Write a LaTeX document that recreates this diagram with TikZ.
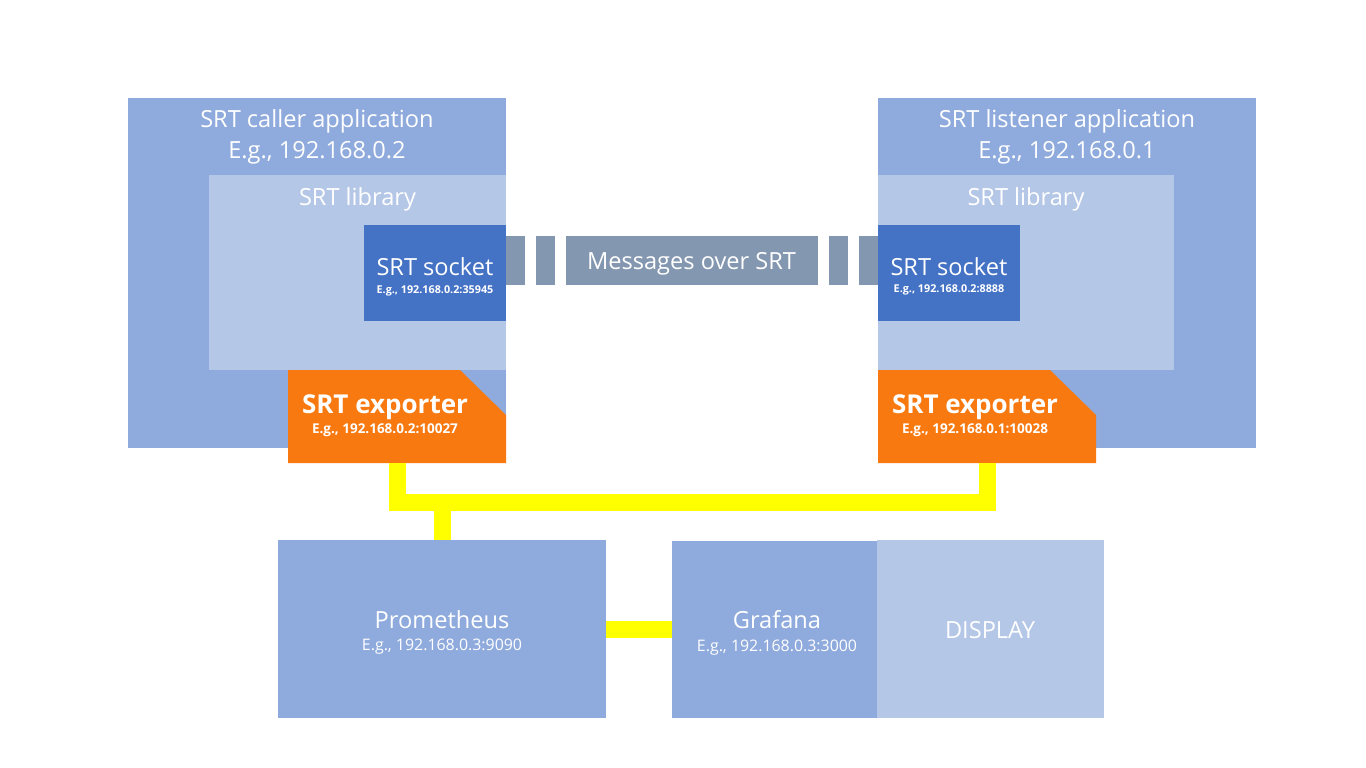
\documentclass[tikz,border=0pt]{standalone}
\usepackage{fontspec}
\setmainfont{Open Sans}
\definecolor{appblue}{RGB}{143,170,220}
\definecolor{libblue}{RGB}{180,199,231}
\definecolor{sockblue}{RGB}{68,114,196}
\definecolor{exporange}{RGB}{247,121,15}
\definecolor{msggray}{RGB}{132,151,176}
\definecolor{linkyellow}{RGB}{255,255,0}
\tikzset{
  box/.style={inner sep=0pt, outer sep=0pt, draw=none},
  lbl/.style={anchor=base, inner sep=0pt, outer sep=0pt, text=white},
  tbig/.style={lbl, font=\fontsize{23.6}{26}\selectfont},
  tsmall/.style={lbl, font=\fontsize{15.9}{18}\selectfont},
  tsock/.style={lbl, font=\bfseries\fontsize{10.8}{12}\selectfont},
  texp/.style={lbl, font=\bfseries\fontsize{26}{30}\selectfont},
  texpsmall/.style={lbl, font=\bfseries\fontsize{13.5}{15}\selectfont},
  link/.style={draw=linkyellow, line width=17pt},
  wire/.style={draw=msggray, line width=49pt, dash pattern=on 19pt off 11pt},
}
\begin{document}
\begin{tikzpicture}[x=1pt,y=1pt,yscale=-1]
\useasboundingbox (0,0) rectangle (1366,768);
% caller side
\node[box, fill=appblue, minimum width=378pt, minimum height=350pt] (appL) at (317,273) {};
\node[box, fill=libblue, minimum width=297pt, minimum height=195pt] (libL) at (357.5,272.5) {};
\node[box, fill=sockblue, minimum width=142pt, minimum height=96pt] (sockL) at (435,273) {};
\node[box, minimum width=218pt, minimum height=93pt] (exL) at (397,416.5) {};
\fill[exporange] (exL.south west) -- (exL.north west) -- ([xshift=-46pt]exL.north east)
  -- ([yshift=45pt]exL.north east) -- (exL.south east) -- cycle;
% listener side
\node[box, fill=appblue, minimum width=378pt, minimum height=350pt] (appR) at (1067,273) {};
\node[box, fill=libblue, minimum width=296pt, minimum height=195pt] (libR) at (1026,272.5) {};
\node[box, fill=sockblue, minimum width=142pt, minimum height=96pt] (sockR) at (949,273) {};
\node[box, minimum width=218pt, minimum height=93pt] (exR) at (987,416.5) {};
\fill[exporange] (exR.south west) -- (exR.north west) -- ([xshift=-46pt]exR.north east)
  -- ([yshift=45pt]exR.north east) -- (exR.south east) -- cycle;
% messages
\node[box, fill=msggray, minimum width=251pt, minimum height=49pt] (msg) at (691.5,260.5) {};
\draw[wire] (sockL.east |- msg.west) -- (msg.west);
\draw[wire] (sockR.west |- msg.east) -- (msg.east);
% monitoring
\node[box, fill=appblue, minimum width=328pt, minimum height=178pt] (prom) at (442,629) {};
\node[box, fill=appblue, minimum width=205pt, minimum height=177pt] (graf) at (774.5,629.5) {};
\node[box, fill=libblue, minimum width=227pt, minimum height=178pt] (disp) at (990.5,629) {};
\draw[link] (exL.south) -- ++(0,39.5) coordinate (busL) -| (exR.south);
\draw[link] (prom.north) -- (prom.north |- busL);
\draw[link] (prom.east) -- (prom.east -| graf.west);
% texts
\node[tbig] (tAppL) at (317,128) {SRT caller application};
\node[tbig] (tAppL2) at (317,158) {E.g., 192.168.0.2};
\node[tbig] (tLibL) at (357.5,205) {SRT library};
\node[tbig] (tSockL) at (435,275) {SRT socket};
\node[tsock] (tSockL2) at (435,293) {E.g., 192.168.0.2:35945};
\node[texp] (tExL) at (385,413) {SRT exporter};
\node[texpsmall] (tExL2) at (385,433) {E.g., 192.168.0.2:10027};
\node[tbig] (tAppR) at (1067,128) {SRT listener application};
\node[tbig] (tAppR2) at (1067,158) {E.g., 192.168.0.1};
\node[tbig] (tLibR) at (1026,205) {SRT library};
\node[tbig] (tSockR) at (949,275) {SRT socket};
\node[tsock] (tSockR2) at (949,292) {E.g., 192.168.0.2:8888};
\node[texp] (tExR) at (975,413) {SRT exporter};
\node[texpsmall] (tExR2) at (975,433) {E.g., 192.168.0.1:10028};
\node[tbig] (tMsg) at (691.5,269) {Messages over SRT};
\node[tbig] (tProm) at (442,628) {Prometheus};
\node[tsmall] (tProm2) at (442,650) {E.g., 192.168.0.3:9090};
\node[tbig] (tGraf) at (777,628) {Grafana};
\node[tsmall] (tGraf2) at (777,651) {E.g., 192.168.0.3:3000};
\node[tbig] (tDisp) at (990,638) {DISPLAY};
\end{tikzpicture}
\end{document}
